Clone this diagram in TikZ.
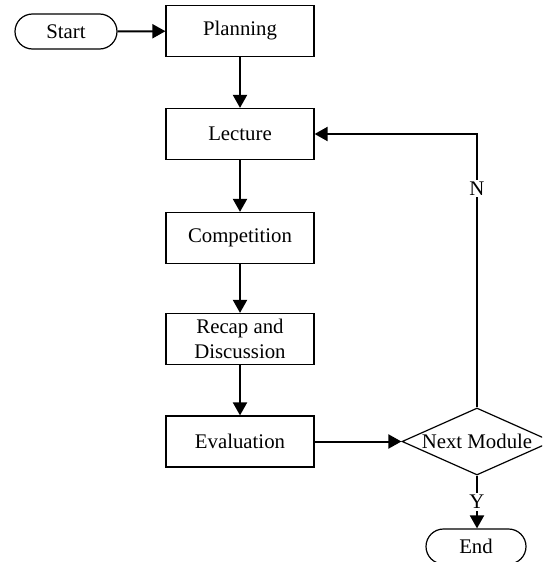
\documentclass[tikz,border=0pt]{standalone}
\usepackage{fontspec}
\setmainfont{Liberation Serif}
\usetikzlibrary{shapes.geometric,shapes.misc,arrows.meta}
\begin{document}
\begin{tikzpicture}[x=0.5pt,y=-0.5pt,
  every node/.style={font=\fontsize{10.4}{12.5}\selectfont},
  procbox/.style={draw, line width=0.6pt, minimum width=74pt, minimum height=25.5pt, inner sep=1pt, align=center},
  termbox/.style={draw, line width=0.6pt, rounded rectangle, minimum width=53pt, minimum height=17.5pt, inner sep=1pt},
  decbox/.style={draw, line width=0.6pt, diamond, shape aspect=2.24, minimum width=75pt, minimum height=33.5pt, inner sep=0pt},
  flow/.style={line width=1pt, -{Triangle[length=6.5pt,width=7pt]}},
  lbl/.style={fill=white, inner sep=1pt}]
\clip (0,0) rectangle (542,562);
\fill[white] (0,0) rectangle (542,562);
\node[termbox] (start) at (66,31.5) {Start};
\node[procbox] (plan) at (240,31) {Planning};
\node[procbox] (lect) at (240,134) {Lecture};
\node[procbox] (comp) at (240,238) {Competition};
\node[procbox] (recap) at (240,339) {Recap and\\Discussion};
\node[procbox] (eval) at (240,441.5) {Evaluation};
\node[decbox] (next) at (477,441.5) {Next Module};
\node[termbox, minimum width=52pt] (end) at (476,546.5) {End};
\draw[flow] (start) -- (plan);
\draw[flow] (plan) -- (lect);
\draw[flow] (lect) -- (comp);
\draw[flow] (comp) -- (recap);
\draw[flow] (recap) -- (eval);
\draw[flow] (eval) -- (next);
\draw[flow] (next.south) -- node[lbl] {Y} (end.north -| next.south);
\draw[flow] (next.north) |- node[lbl, pos=0.4] {N} (lect.east);
\end{tikzpicture}
\end{document}
